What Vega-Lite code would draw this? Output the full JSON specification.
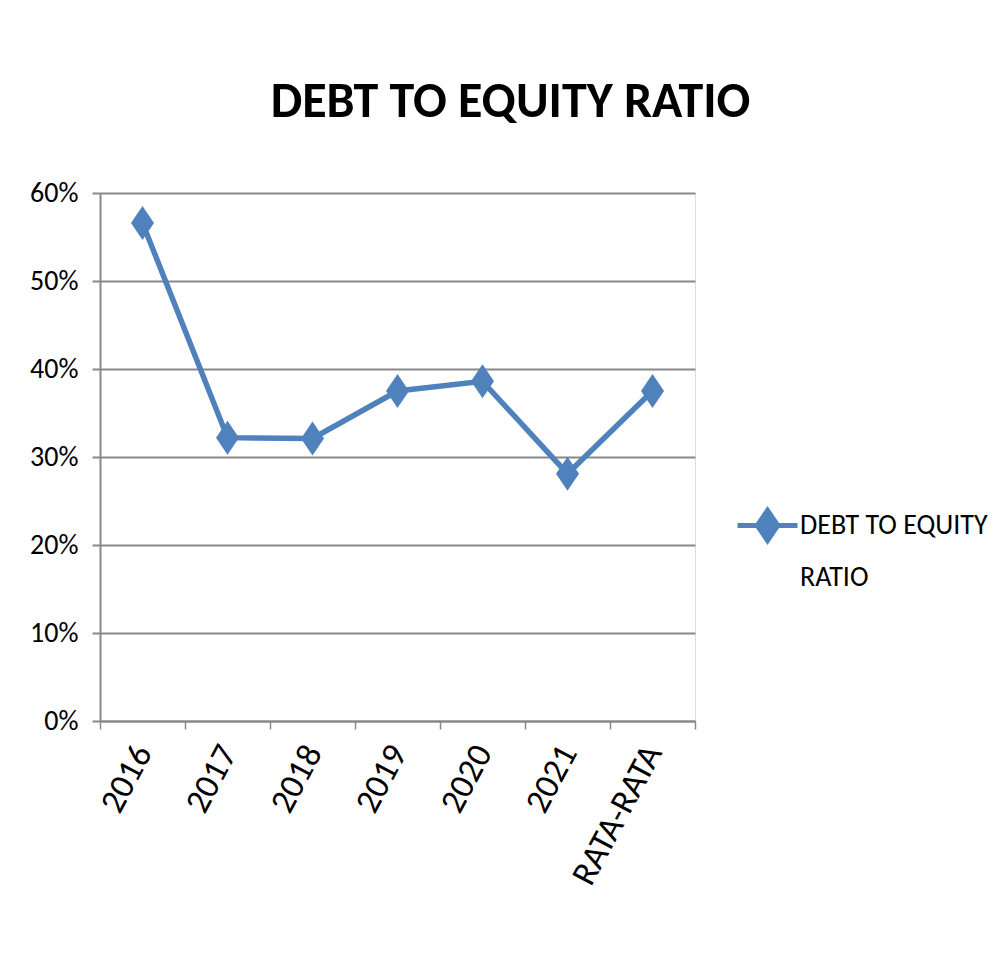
{
  "$schema": "https://vega.github.io/schema/vega-lite/v6.json",
  "autosize": {"type": "none"},
  "width": 595,
  "height": 528,
  "padding": {"left": 100, "top": 193, "right": 310, "bottom": 234},
  "background": "white",
  "title": {
    "text": "DEBT TO EQUITY RATIO",
    "font": "Carlito, Lato, sans-serif",
    "fontSize": 50,
    "fontWeight": "bold",
    "color": "black",
    "anchor": "middle",
    "frame": "group",
    "dx": 113,
    "offset": 52
  },
  "data": {
    "values": [
      {"year": "2016", "ratio": 0.566, "series": "DEBT TO EQUITY RATIO"},
      {"year": "2017", "ratio": 0.322, "series": "DEBT TO EQUITY RATIO"},
      {"year": "2018", "ratio": 0.321, "series": "DEBT TO EQUITY RATIO"},
      {"year": "2019", "ratio": 0.375, "series": "DEBT TO EQUITY RATIO"},
      {"year": "2020", "ratio": 0.386, "series": "DEBT TO EQUITY RATIO"},
      {"year": "2021", "ratio": 0.281, "series": "DEBT TO EQUITY RATIO"},
      {"year": "RATA-RATA", "ratio": 0.375, "series": "DEBT TO EQUITY RATIO"}
    ]
  },
  "encoding": {
    "x": {
      "field": "year",
      "type": "nominal",
      "sort": null,
      "scale": {"type": "band", "paddingInner": 0, "paddingOuter": 0},
      "axis": {
        "title": null,
        "labelAngle": -62,
        "labelFontSize": 35,
        "labelFont": "Carlito, Lato, sans-serif",
        "labelColor": "black",
        "labelPadding": 18,
        "tickBand": "extent",
        "tickSize": 8,
        "tickColor": "#888888",
        "tickWidth": 1.5,
        "domainColor": "#888888",
        "domainWidth": 2,
        "grid": false,
        "labelLimit": 400
      }
    },
    "y": {
      "field": "ratio",
      "type": "quantitative",
      "scale": {"domain": [0, 0.6], "nice": false},
      "axis": {
        "title": null,
        "values": [0, 0.1, 0.2, 0.3, 0.4, 0.5, 0.6],
        "format": ".0%",
        "labelFontSize": 28,
        "labelFont": "Carlito, Lato, sans-serif",
        "labelColor": "black",
        "labelPadding": 14,
        "tickSize": 8,
        "tickColor": "#888888",
        "tickWidth": 2,
        "domainColor": "#888888",
        "domainWidth": 2,
        "grid": true,
        "gridColor": "#888888",
        "gridWidth": 2
      }
    }
  },
  "layer": [
    {
      "mark": {"type": "line", "strokeWidth": 5.5, "color": "#4F81BD"},
      "encoding": {
        "color": {
          "field": "series",
          "type": "nominal",
          "scale": {"range": ["#4F81BD"]},
          "legend": {
            "title": null,
            "orient": "none",
            "legendX": 635,
            "legendY": 300,
            "padding": 0,
            "symbolType": "M-1,0L1,0M0,-0.5L0.34,0L0,0.5L-0.34,0Z",
            "symbolSize": 3600,
            "symbolStrokeWidth": 5,
            "symbolFillColor": "#4F81BD",
            "symbolStrokeColor": "#4F81BD",
            "labelFont": "Carlito, Lato, sans-serif",
            "labelFontSize": 28,
            "labelColor": "black",
            "labelLimit": 400,
            "labelOffset": 0,
            "labelExpr": "['DEBT TO EQUITY', 'RATIO']",
            "encode": {
              "labels": {"update": {"lineHeight": {"value": 52}}}
            }
          }
        }
      }
    },
    {
      "mark": {
        "type": "point",
        "shape": "M0,-1.7L1.15,0L0,1.7L-1.15,0Z",
        "size": 400,
        "filled": true,
        "opacity": 1,
        "color": "#4F81BD"
      }
    }
  ]
}
